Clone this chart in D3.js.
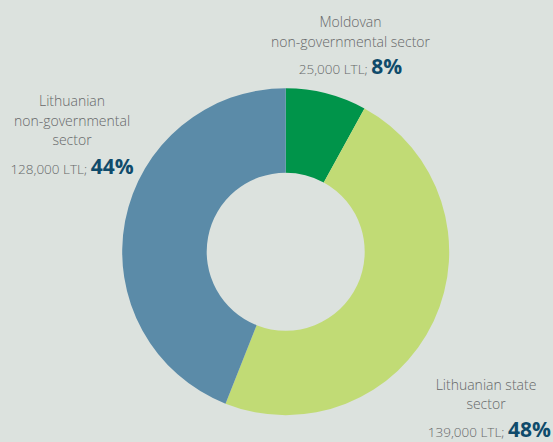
<!DOCTYPE html>
<html><head><meta charset="utf-8">
<script src="https://cdn.jsdelivr.net/npm/d3@7"></script>
<style>
html,body{margin:0;padding:0;background:#dce2de;}
svg{display:block;}
text{font-family:"Open Sans",sans-serif;}
</style></head><body>
<svg id="c" width="553" height="442"></svg>
<script>
const categories = ["Moldovan non-governmental sector", "Lithuanian state sector", "Lithuanian non-governmental sector"];
const amounts = ["25,000 LTL;", "139,000 LTL;", "128,000 LTL;"];
const percents = [8, 48, 44];
const colors = ["#00944a", "#c1db75", "#5b8ba8"];
const labelLines = [["Moldovan", "non-governmental sector"], ["Lithuanian state", "sector"], ["Lithuanian", "non-governmental", "sector"]];

const svg = d3.select("#c");
const cx = 285.7, cy = 251.7, R = 163.5, r = 79;
const pie = d3.pie().sort(null).value(d => d)(percents);
const arc = d3.arc().innerRadius(r).outerRadius(R);
svg.append("g").attr("transform", `translate(${cx},${cy})`)
  .selectAll("path").data(pie).join("path")
  .attr("d", arc).attr("fill", (d, i) => colors[i]);

const labelPos = [
  {x: 350.5, y: 27, lh: 20, gap: 27, vx: 350.5, anchor: "middle"},
  {x: 486, y: 390, lh: 19, gap: 28, vx: 551, anchor: "end"},
  {x: 72, y: 106, lh: 19.5, gap: 28.5, vx: 72, anchor: "middle"}
];
labelLines.forEach((lines, i) => {
  const p = labelPos[i];
  const g = svg.append("g");
  lines.forEach((ln, j) => {
    g.append("text").attr("x", p.x).attr("y", p.y + j * p.lh)
      .attr("text-anchor", "middle").attr("font-size", 14).attr("font-weight", 300)
      .attr("fill", "#666869").text(ln);
  });
  const yv = p.y + (lines.length - 1) * p.lh + p.gap;
  const t = g.append("text").attr("x", p.vx).attr("y", yv).attr("text-anchor", p.anchor);
  t.append("tspan").attr("font-size", 13.5).attr("font-weight", 300).attr("fill", "#666869").text(amounts[i] + " ");
  t.append("tspan").attr("font-size", 21).attr("font-weight", 700).attr("fill", "#0f4b6b").text(percents[i] + "%");
});
</script>
</body></html>
